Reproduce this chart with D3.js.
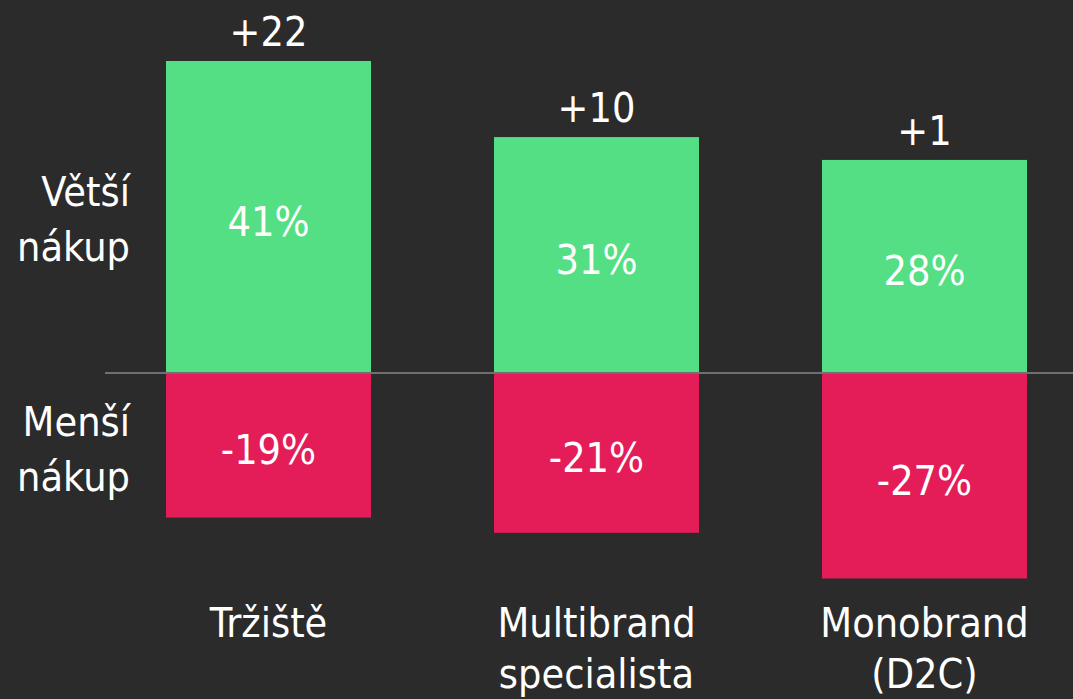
<!DOCTYPE html>
<html>
<head>
<meta charset="utf-8">
<script src="https://cdn.jsdelivr.net/npm/d3@7"></script>
<style>
	html, body { margin: 0; padding: 0; background: #2b2b2b; }
	svg { display: block; }
	text { font-family: "Liberation Sans Narrow", "DejaVu Sans Condensed", sans-serif; fill: #fff; }
</style>
</head>
<body>
<svg id="chart" width="1073" height="699"></svg>
<script>
// DATA
const categories = [["Tržiště"], ["Multibrand", "specialista"], ["Monobrand", "(D2C)"]];
const bigger = [41, 31, 28];
const smaller = [-19, -21, -27];
const net = ["+22", "+10", "+1"];
const rowLabels = [["Větší", "nákup"], ["Menší", "nákup"]];

const svg = d3.select('#chart');
const W = 1073, H = 699;

const green = '#54df84', red = '#e41c58';

var x = d3.scaleBand()
	.domain(d3.range(categories.length))
	.range([166, 1027])
	.paddingInner(0.375)
	.paddingOuter(0);

var y = d3.scaleLinear().domain([0, 41]).range([373, 61]);

// green bars
svg.selectAll('.bar-up').data(bigger).enter()
	.append('rect')
	.attr('x', (d, i) => x(i))
	.attr('y', d => y(d))
	.attr('width', x.bandwidth())
	.attr('height', d => y(0) - y(d))
	.attr('fill', green);

// red bars
svg.selectAll('.bar-down').data(smaller).enter()
	.append('rect')
	.attr('x', (d, i) => x(i))
	.attr('y', y(0))
	.attr('width', x.bandwidth())
	.attr('height', d => y(d) - y(0))
	.attr('fill', red);

// zero line
svg.append('line')
	.attr('x1', 105).attr('x2', W)
	.attr('y1', y(0)).attr('y2', y(0))
	.attr('stroke', '#707070')
	.attr('stroke-width', 2);

const fs = 41;

// values inside bars
svg.selectAll('.lbl-up').data(bigger).enter()
	.append('text')
	.attr('x', (d, i) => x(i) + x.bandwidth() / 2)
	.attr('y', d => (y(d) + y(0)) / 2 + 19)
	.attr('text-anchor', 'middle')
	.style('font-size', fs + 'px')
	.text(d => d + '%');

svg.selectAll('.lbl-down').data(smaller).enter()
	.append('text')
	.attr('x', (d, i) => x(i) + x.bandwidth() / 2)
	.attr('y', d => (y(d) + y(0)) / 2 + 19)
	.attr('text-anchor', 'middle')
	.style('font-size', fs + 'px')
	.text(d => d + '%');

// net values on top
svg.selectAll('.net').data(net).enter()
	.append('text')
	.attr('x', (d, i) => x(i) + x.bandwidth() / 2)
	.attr('y', (d, i) => y(bigger[i]) - 15)
	.attr('text-anchor', 'middle')
	.style('font-size', fs + 'px')
	.text(d => d);

// category labels
svg.selectAll('.cat').data(categories).enter()
	.append('text')
	.attr('x', (d, i) => x(i) + x.bandwidth() / 2)
	.attr('y', 637)
	.attr('text-anchor', 'middle')
	.style('font-size', fs + 'px')
	.each(function(d) {
		d3.select(this).selectAll('tspan').data(d).enter()
			.append('tspan')
			.attr('x', d3.select(this).attr('x'))
			.attr('dy', (t, j) => j ? 51 : 0)
			.text(t => t);
	});

// row labels on the left
const rowY = [206, 436];
svg.selectAll('.row').data(rowLabels).enter()
	.append('text')
	.attr('x', 130)
	.attr('y', (d, i) => rowY[i])
	.attr('text-anchor', 'end')
	.style('font-size', fs + 'px')
	.each(function(d) {
		d3.select(this).selectAll('tspan').data(d).enter()
			.append('tspan')
			.attr('x', 130)
			.attr('dy', (t, j) => j ? 55 : 0)
			.text(t => t);
	});
</script>
</body>
</html>
